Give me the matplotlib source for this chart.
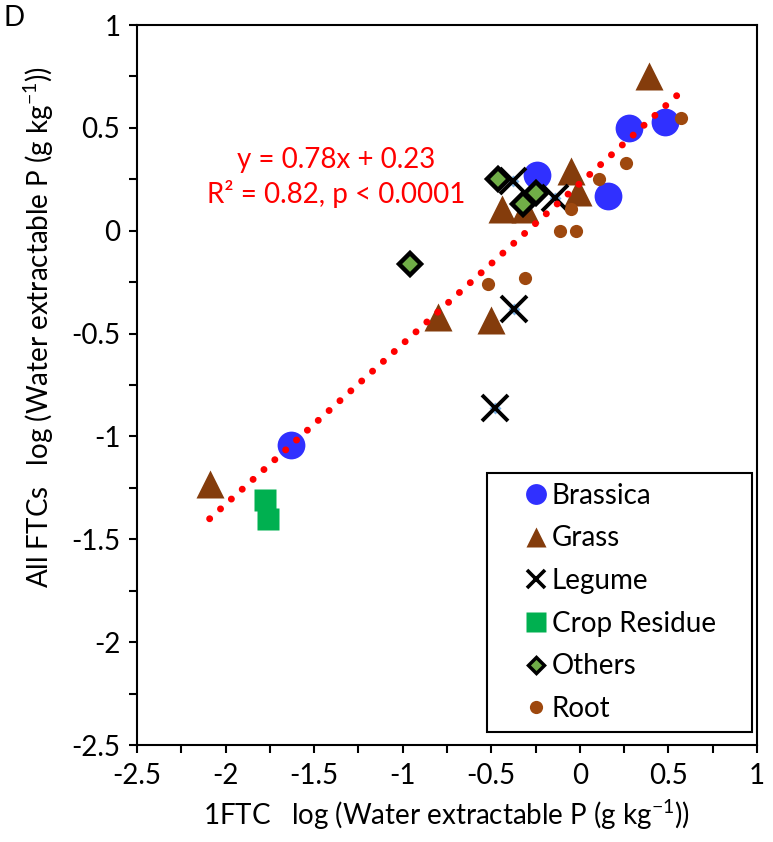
import matplotlib
matplotlib.use('Agg')
import matplotlib.pyplot as plt
from matplotlib.lines import Line2D
from matplotlib.ticker import MultipleLocator
import numpy as np

plt.rcParams['font.family'] = ['Lato', 'DejaVu Sans']
plt.rcParams['mathtext.fontset'] = 'custom'
plt.rcParams['mathtext.rm'] = 'Lato'

# Data (log water extractable P, 1FTC vs all FTCs)
brassica_x = [-1.63, -0.24, 0.16, 0.28, 0.48]
brassica_y = [-1.04, 0.27, 0.17, 0.50, 0.53]

grass_x = [-2.09, -0.80, -0.50, -0.44, -0.31, -0.05, -0.01, 0.39]
grass_y = [-1.23, -0.42, -0.435, 0.105, 0.105, 0.29, 0.19, 0.75]

legume_x = [-0.38, -0.14, -0.37, -0.48]
legume_y = [0.24, 0.16, -0.38, -0.86]

crop_x = [-1.78, -1.76]
crop_y = [-1.31, -1.40]

others_x = [-0.96, -0.46, -0.32, -0.25]
others_y = [-0.16, 0.25, 0.13, 0.185]

root_x = [-0.52, -0.31, -0.11, -0.02, -0.05, 0.11, 0.26, 0.57]
root_y = [-0.26, -0.23, 0.0, 0.0, 0.105, 0.25, 0.33, 0.55]

slope, intercept = 0.78, 0.23

FS = 20

fig = plt.figure(figsize=(7.73, 8.42), dpi=100)
ax = fig.add_axes([137 / 773, 1 - 745 / 842, 620 / 773, 720 / 842])

ax.plot(brassica_x, brassica_y, 'o', ms=20, color='#3030FF', mec='none', zorder=3)
ax.plot(grass_x, grass_y, '^', ms=19.5, color='#843C0C', mec='none', zorder=3)
ax.plot(legume_x, legume_y, 'D', ms=6, color='#7FB5E6', mec='none', zorder=3)
ax.plot(legume_x, legume_y, 'x', ms=19, color='black', mew=2.8, zorder=3)
ax.plot(crop_x, crop_y, 's', ms=16.5, color='#00B050', mec='none', zorder=3)
ax.plot(others_x, others_y, 'D', ms=11, mfc='#70AD47', mec='black', mew=3.2, zorder=3)
ax.plot(root_x, root_y, 'o', ms=9.5, color='#9E480E', mec='none', zorder=3)

# trendline over the data range
all_x = brassica_x + grass_x + legume_x + crop_x + others_x + root_x
tx = np.array([min(all_x), max(all_x)])
ax.plot(tx, slope * tx + intercept, color='#FF0000', lw=5, zorder=4,
        linestyle=(0, (0.01, 2.1)), dash_capstyle='round')

ax.text(-1.378, 0.258, 'y = 0.78x + 0.23\nR² = 0.82, p < 0.0001', color='#FF0000',
        fontsize=FS, ha='center', va='center', linespacing=1.3)

ax.set_xlim(-2.5, 1)
ax.set_ylim(-2.5, 1)
ax.xaxis.set_major_locator(MultipleLocator(0.5))
ax.xaxis.set_minor_locator(MultipleLocator(0.25))
ax.yaxis.set_major_locator(MultipleLocator(0.5))
ax.yaxis.set_minor_locator(MultipleLocator(0.25))
ax.tick_params(which='both', direction='out', width=1.5, length=6, labelsize=FS)
ax.tick_params(axis='x', pad=7)
ax.tick_params(axis='y', pad=6)
ax.xaxis.set_major_formatter(plt.FuncFormatter(lambda v, p: f'{v:g}'))
ax.yaxis.set_major_formatter(plt.FuncFormatter(lambda v, p: f'{v:g}'))
for s in ax.spines.values():
    s.set_linewidth(1.5)

ax.set_xlabel('1FTC   log (Water extractable P (g kg$^{-1}$))', fontsize=FS, labelpad=6)
ax.set_ylabel('All FTCs   log (Water extractable P (g kg$^{-1}$))', fontsize=FS)
ax.yaxis.set_label_coords(-0.13, 0.58)
fig.text(14 / 773, 1 - 18 / 842, 'D', fontsize=FS, ha='center', va='center')

handles = [
    Line2D([], [], ls='none', marker='o', ms=15, color='#3030FF', mec='none'),
    Line2D([], [], ls='none', marker='^', ms=15, color='#843C0C', mec='none'),
    Line2D([], [], ls='none', marker='x', ms=13, color='black', mew=2.6),
    Line2D([], [], ls='none', marker='s', ms=14, color='#00B050', mec='none'),
    Line2D([], [], ls='none', marker='D', ms=8.5, mfc='#70AD47', mec='black', mew=2.5),
    Line2D([], [], ls='none', marker='o', ms=9.5, color='#9E480E', mec='none'),
]
labels = ['Brassica', 'Grass', 'Legume', 'Crop Residue', 'Others', 'Root']
leg = ax.legend(handles, labels, loc='upper left',
                bbox_to_anchor=(487 / 773, 1 - 473 / 842 - 0.01, 265 / 773, 0.01),
                bbox_transform=fig.transFigure, mode='expand',
                fontsize=FS, frameon=True, fancybox=False, edgecolor='black',
                framealpha=1, borderpad=0.35, labelspacing=0.6,
                handlelength=2.83, handletextpad=-0.84, borderaxespad=0)
leg.get_frame().set_linewidth(1.5)
leg.set_zorder(5)

fig.savefig('out.png', dpi=100)
